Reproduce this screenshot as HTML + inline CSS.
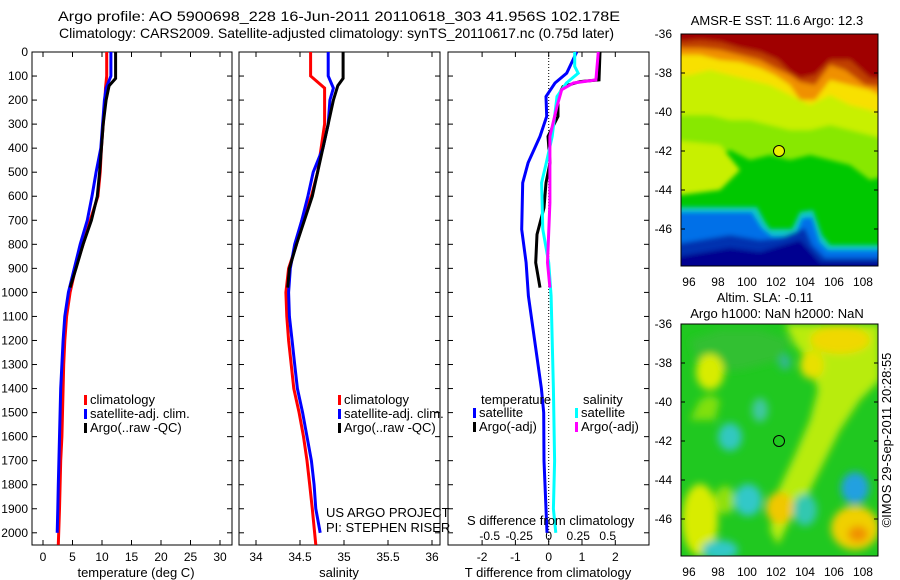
<!DOCTYPE html>
<html><head><meta charset="utf-8"><style>
html,body{margin:0;padding:0;background:#fff;}
svg{display:block;font-family:"Liberation Sans",sans-serif;}
text{font-size:13px;fill:#000;}
text.tk{font-size:12px;}
</style></head><body>
<svg id="fig" width="900" height="580" viewBox="0 0 900 580" xmlns="http://www.w3.org/2000/svg">
<defs>
<filter id="bl" x="-20%" y="-20%" width="140%" height="140%"><feGaussianBlur stdDeviation="2.5"/></filter>
<filter id="bl2" x="-20%" y="-20%" width="140%" height="140%"><feGaussianBlur stdDeviation="4"/></filter>
<clipPath id="c1"><rect x="681" y="34" width="197" height="232"/></clipPath>
<clipPath id="c2"><rect x="681" y="324" width="197" height="232"/></clipPath>
</defs>
<text x="58" y="21" style="font-size:14px" textLength="562" lengthAdjust="spacingAndGlyphs">Argo profile: AO 5900698_228 16-Jun-2011 20110618_303 41.956S 102.178E</text>
<text x="59" y="38" style="font-size:14px" textLength="555" lengthAdjust="spacingAndGlyphs">Climatology: CARS2009. Satellite-adjusted climatology: synTS_20110617.nc (0.75d later)</text>

<g id="map1">
<text x="777" y="25" text-anchor="middle">AMSR-E SST: 11.6 Argo: 12.3</text>
<g clip-path="url(#c1)">
<rect x="681" y="34" width="197" height="232" fill="#00c800"/>
<g filter="url(#bl)">
<polygon points="670,25 890,25 890,175 870,180 850,165 830,160 810,155 790,160 770,155 750,160 730,150 710,160 690,155 670,160" fill="#88e800"/>
<polygon points="670,25 890,25 890,140 870,135 850,130 830,125 810,130 790,130 770,125 750,120 730,120 710,115 690,115 670,115" fill="#c8f000"/>
<polygon points="670,25 890,25 890,118 870,110 850,105 830,95 810,105 790,95 770,85 750,80 730,75 710,70 690,75 670,75" fill="#f8e000"/>
<polygon points="670,25 890,25 890,100 870,90 850,85 830,80 815,100 800,100 790,85 775,75 760,68 740,62 720,60 700,55 680,55 670,55" fill="#f09000"/>
<polygon points="670,25 890,25 890,88 865,85 845,70 830,65 815,85 800,82 790,75 775,68 760,60 740,55 720,50 700,48 680,48" fill="#c04000"/>
<polygon points="670,25 890,25 890,80 870,78 850,60 830,60 815,75 800,78 790,72 778,60 760,52 740,48 720,42 700,40 680,42" fill="#a00000"/>
<polygon points="670,140 720,145 740,170 720,190 680,195 670,190" fill="#c8f000"/>
<polygon points="670,207 757,207 765,222 770,229 792,229 800,212 813,210 822,235 830,245 890,245 890,290 670,290" fill="#10c8c8"/>
<polygon points="670,212 752,212 762,228 772,236 795,236 802,218 812,217 820,242 828,250 890,250 890,290 670,290" fill="#0070e8"/>
<polygon points="670,245 730,235 760,240 780,238 805,228 812,245 825,258 890,258 890,290 670,290" fill="#0030b0"/>
<polygon points="670,258 730,248 760,252 800,240 820,262 890,262 890,290 670,290" fill="#000090"/>
</g>
</g>
<rect x="681" y="34" width="197" height="232" fill="none" stroke="#000"/>
<circle cx="779" cy="151" r="5.5" fill="#e8f000" stroke="#000"/>
</g>

<g id="map2">
<text x="765" y="302" text-anchor="middle">Altim. SLA: -0.11</text>
<text x="777" y="318" text-anchor="middle">Argo h1000: NaN h2000: NaN</text>
<g clip-path="url(#c2)">
<rect x="681" y="324" width="197" height="232" fill="#20c820"/>
<g filter="url(#bl2)">
<polygon points="690,340 720,330 760,330 790,340 780,360 740,370 700,370" fill="#30c030"/>
<polygon points="785,324 880,324 880,380 860,400 840,430 820,470 805,500 790,520 778,545 770,530 776,495 795,455 810,420 818,390 808,360 795,345" fill="#b8ec10"/>
<polygon points="690,420 700,400 710,395 720,400 715,420" fill="#80e010"/>
<ellipse cx="840" cy="340" rx="30" ry="14" fill="#f0d800"/>
<ellipse cx="812" cy="365" rx="12" ry="14" fill="#e8e000"/>
<ellipse cx="710" cy="372" rx="14" ry="18" fill="#d8ec00"/>
<ellipse cx="700" cy="520" rx="18" ry="36" fill="#d8ec00"/>
<ellipse cx="725" cy="500" rx="10" ry="14" fill="#90e010"/>
<ellipse cx="855" cy="528" rx="24" ry="22" fill="#f0d000"/>
<ellipse cx="858" cy="534" rx="10" ry="8" fill="#f09000"/>
<ellipse cx="780" cy="508" rx="14" ry="16" fill="#f0c800"/>
<ellipse cx="760" cy="410" rx="8" ry="12" fill="#40c8a0"/>
<ellipse cx="730" cy="437" rx="12" ry="14" fill="#30c8c0"/>
<ellipse cx="748" cy="500" rx="14" ry="16" fill="#30c8c8"/>
<ellipse cx="805" cy="510" rx="12" ry="16" fill="#30c8b0"/>
<ellipse cx="855" cy="488" rx="14" ry="16" fill="#20a0e0"/>
<ellipse cx="720" cy="550" rx="18" ry="10" fill="#30c8c8"/>
<ellipse cx="785" cy="362" rx="6" ry="8" fill="#30b890"/>
</g>
</g>
<rect x="681" y="324" width="197" height="232" fill="none" stroke="#000"/>
<circle cx="779" cy="441" r="5.5" fill="none" stroke="#000"/>
<text transform="translate(891,440) rotate(-90)" text-anchor="middle">©IMOS 29-Sep-2011 20:28:55</text>
</g>
<g id="dyn"></g>
</svg>
<script>
// ---- data ----
var depthTicks=[0,100,200,300,400,500,600,700,800,900,1000,1100,1200,1300,1400,1500,1600,1700,1800,1900,2000];
var tempTicks=[0,5,10,15,20,25,30];
var salTicks=[34,34.5,35,35.5,36];
var salTickLabels=["34","34.5","35","35.5","36"];
var diffTicks=[-2,-1,0,1,2];
var sdiffTicks=[-0.5,-0.25,0,0.25,0.5];
var sdiffTickLabels=["-0.5","-0.25","0","0.25","0.5"];
var latTicks=[-36,-38,-40,-42,-44,-46];
var lonTicks=[96,98,100,102,104,106,108];

var climDepth=[0,100,150,200,300,400,500,600,700,800,900,1000,1100,1200,1300,1400,1500,1600,1700,1800,1900,2050];
var climTemp=[10.8,10.8,10.6,10.5,10.2,9.9,9.7,9.3,8.0,6.8,5.5,4.6,4.0,3.7,3.5,3.4,3.3,3.2,3.0,2.9,2.8,2.6];
var climSal=[34.62,34.62,34.78,34.78,34.78,34.74,34.70,34.63,34.52,34.46,34.37,34.34,34.35,34.37,34.40,34.43,34.49,34.54,34.58,34.61,34.64,34.68];

var satDepth=[0,100,150,200,300,400,500,600,700,800,900,1000,1100,1200,1300,1400,1500,1600,1700,1800,1900,2000];
var satTemp=[11.5,11.5,10.7,10.4,10.1,9.8,9.0,8.3,7.5,6.3,5.3,4.3,3.7,3.4,3.2,3.0,2.9,2.8,2.7,2.6,2.5,2.4];
var satSal=[34.82,34.82,34.88,34.84,34.82,34.76,34.65,34.59,34.52,34.44,34.39,34.37,34.38,34.41,34.44,34.47,34.53,34.58,34.63,34.66,34.68,34.73];

var argoDepth=[0,110,140,200,300,400,500,600,700,800,900,980];
var argoTemp=[12.3,12.3,11.2,10.7,10.2,9.9,9.6,9.2,8.2,6.8,5.6,4.6];
var argoSal=[34.99,34.99,34.93,34.88,34.82,34.76,34.70,34.64,34.55,34.46,34.38,34.36];

var tdSatDepth=[0,88,129,185,268,351,461,544,738,876,1015,1400,1500,1700,2000];
var tdSat=[0.84,0.54,0.19,-0.08,-0.06,-0.26,-0.62,-0.78,-0.81,-0.68,-0.61,-0.22,-0.15,-0.14,-0.05];
var tdArgoDepth=[0,116,123,144,185,268,351,461,544,648,759,876,980];
var tdArgo=[1.54,1.51,0.94,0.43,0.28,0.28,-0.02,0.04,-0.08,-0.14,-0.35,-0.39,-0.26];
var sdSatDepth=[0,60,88,129,185,268,351,461,544,738,876,1015,1400,1700,1900,2000];
var sdSat=[0.22,0.22,0.25,0.15,0.07,0.05,0.03,-0.02,-0.06,-0.05,0,0.02,0.04,0.05,0.04,0.06];
var sdArgoDepth=[0,116,129,157,226,351,461,627,876,980];
var sdArgo=[0.42,0.40,0.21,0.11,0.07,0.01,0.01,0.01,-0.01,0.01];

// ---- axes ----
function yD(d){return 52+d*0.2404;}
function xT(v){return 43+v*5.9;}
function xS(v){return 256+(v-34)*88;}
function xDf(v){return 548.7+v*33.3;}
function xSD(v){return 548.7+v*118;}
function latY1(l){return 34+(-36-l)*19.5;}
function latY2(l){return 324+(-36-l)*19.5;}
function lonX(l){return 681+(l-95.45)*14.5;}

var NS="http://www.w3.org/2000/svg";
var root=document.getElementById('dyn');
function mk(tag,attrs,parent){var e=document.createElementNS(NS,tag);for(var k in attrs)e.setAttribute(k,attrs[k]);(parent||root).appendChild(e);return e;}
function txt(x,y,s,anchor,parent,cls){var t=mk('text',{x:x,y:y,'text-anchor':anchor||'start'},parent);if(cls)t.setAttribute('class',cls);t.textContent=s;return t;}

var panels=[{x0:32,x1:232,name:'temperature-panel'},{x0:239,x1:440,name:'salinity-panel'},{x0:448,x1:649,name:'difference-panel'}];
var panelGroups=[];
panels.forEach(function(p){
  var g=mk('g',{});
  
  
  panelGroups.push(g);
  mk('rect',{x:p.x0,y:52,width:p.x1-p.x0,height:493,fill:'none',stroke:'#000'},g);
  depthTicks.forEach(function(d){
    mk('line',{x1:p.x0,x2:p.x0+5,y1:yD(d),y2:yD(d),stroke:'#000'},g);
    mk('line',{x1:p.x1,x2:p.x1-5,y1:yD(d),y2:yD(d),stroke:'#000'},g);
  });
});
var yl=mk('g',{});


depthTicks.forEach(function(d){
  var t=txt(28,yD(d)+4,String(d),'end',yl,'tk');
  
  
});
function xticks(vals,labels,fx,g,tickY){
  vals.forEach(function(v,i){
    var x=fx(v);
    mk('line',{x1:x,x2:x,y1:52,y2:57,stroke:'#000'},g);
    mk('line',{x1:x,x2:x,y1:545,y2:540,stroke:'#000'},g);
    var t=txt(x,tickY,labels[i],'middle',g,'tk');
    
    
  });
}
xticks(tempTicks,tempTicks.map(String),xT,panelGroups[0],561);
xticks(salTicks,salTickLabels,xS,panelGroups[1],561);
xticks(diffTicks,diffTicks.map(String),xDf,panelGroups[2],561);
sdiffTicks.forEach(function(v,i){
  var t=txt(xSD(v),540,sdiffTickLabels[i],'middle',panelGroups[2],'tk');
  
  
});
var at;
at=txt(136,577,'temperature (deg C)','middle');


at=txt(339,577,'salinity','middle');


at=txt(548,577,'T difference from climatology','middle');


at=txt(467,525,'S difference from climatology','start');


mk('line',{x1:xDf(0),x2:xDf(0),y1:52,y2:545,stroke:'#000','stroke-dasharray':'1,2'},panelGroups[2]);

function line(xs,ds,fx,color,g,name){
  var pts=xs.map(function(v,i){return fx(v).toFixed(1)+','+yD(ds[i]).toFixed(1);}).join(' ');
  var p=mk('polyline',{points:pts,fill:'none',stroke:color,'stroke-width':3,'stroke-linejoin':'miter'},g);
  
  
}
line(climTemp,climDepth,xT,'#ff0000',panelGroups[0],'climatology-temp-line');
line(satTemp,satDepth,xT,'#0000ff',panelGroups[0],'satellite-temp-line');
line(argoTemp,argoDepth,xT,'#000000',panelGroups[0],'argo-temp-line');
line(climSal,climDepth,xS,'#ff0000',panelGroups[1],'climatology-sal-line');
line(satSal,satDepth,xS,'#0000ff',panelGroups[1],'satellite-sal-line');
line(argoSal,argoDepth,xS,'#000000',panelGroups[1],'argo-sal-line');
line(tdSat,tdSatDepth,xDf,'#0000ff',panelGroups[2],'satellite-t-diff-line');
line(tdArgo,tdArgoDepth,xDf,'#000000',panelGroups[2],'argo-t-diff-line');
line(sdSat,sdSatDepth,xSD,'#00ffff',panelGroups[2],'satellite-s-diff-line');
line(sdArgo,sdArgoDepth,xSD,'#ff00ff',panelGroups[2],'argo-s-diff-line');

function legend(x,y,color,label,g){
  var e=mk('g',{},g);
  
  
  mk('rect',{x:x,y:y-9,width:3,height:10,fill:color},e);
  txt(x+6,y,label,'start',e);
}
[[84,'#ff0000','climatology'],[84,'#0000ff','satellite-adj. clim.'],[84,'#000000','Argo(..raw -QC)']].forEach(function(r,i){legend(r[0],404+i*14,r[1],r[2],panelGroups[0]);});
[[338,'#ff0000','climatology'],[338,'#0000ff','satellite-adj. clim.'],[338,'#000000','Argo(..raw -QC)']].forEach(function(r,i){legend(r[0],404+i*14,r[1],r[2],panelGroups[1]);});
txt(481,404,'temperature','start',panelGroups[2]);
txt(583,404,'salinity','start',panelGroups[2]);
legend(473,417,'#0000ff','satellite',panelGroups[2]);
legend(473,431,'#000000','Argo(-adj)',panelGroups[2]);
legend(575,417,'#00ffff','satellite',panelGroups[2]);
legend(575,431,'#ff00ff','Argo(-adj)',panelGroups[2]);
at=txt(326,517,'US ARGO PROJECT','start',panelGroups[1]);


at=txt(326,532,'PI: STEPHEN RISER','start',panelGroups[1]);



[[latY1,'map1',286],[latY2,'map2',576]].forEach(function(m){
  var g=mk('g',{});
  
  
  latTicks.forEach(function(l){
    var y=m[0](l);
    mk('line',{x1:681,x2:685,y1:y,y2:y,stroke:'#000'},g);
    mk('line',{x1:878,x2:874,y1:y,y2:y,stroke:'#000'},g);
    txt(672,y+4,String(l),'end',g,'tk');
  });
  lonTicks.forEach(function(l){
    var x=lonX(l);
    txt(x,m[2],String(l),'middle',g,'tk');
  });
});
</script>
</body></html>
